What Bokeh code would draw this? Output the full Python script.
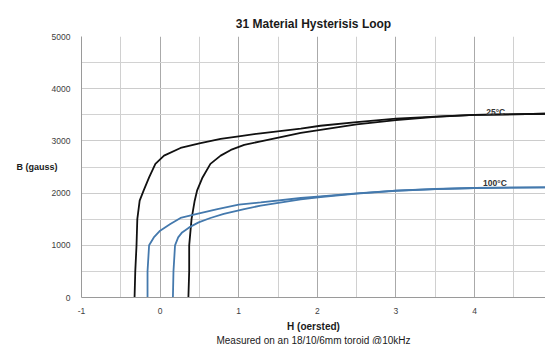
from bokeh.plotting import figure
from bokeh.models import Range1d, FixedTicker, Label, Title
from bokeh.embed import file_html
from bokeh.resources import INLINE

# 25 C loop: descending (upper) branch and ascending (lower) branch
h25_down = [4.9, 4.0, 3.5, 3.0, 2.5, 2.04, 1.79, 1.28, 1.0, 0.77, 0.5, 0.26, 0.05, -0.06, -0.14, -0.21, -0.26, -0.29, -0.30, -0.316, -0.325]
b25_down = [3520, 3498, 3466, 3425, 3360, 3290, 3235, 3146, 3088, 3038, 2954, 2865, 2718, 2560, 2300, 2046, 1855, 1500, 1000, 500, 0]
h25_up = [0.36, 0.37, 0.37, 0.40, 0.44, 0.47, 0.54, 0.64, 0.77, 0.90, 1.07, 1.28, 1.79, 2.04, 2.5, 3.0, 3.5, 4.0, 4.9]
b25_up = [0, 500, 1000, 1500, 1855, 2046, 2300, 2560, 2718, 2827, 2923, 2992, 3153, 3210, 3315, 3400, 3462, 3498, 3520]

# 100 C loop
h100_down = [4.9, 4.0, 3.5, 3.0, 2.5, 2.04, 1.79, 1.28, 1.0, 0.73, 0.47, 0.26, 0.13, 0.0, -0.08, -0.14, -0.16, -0.16]
b100_down = [2110, 2098, 2079, 2047, 1995, 1937, 1906, 1822, 1778, 1695, 1600, 1523, 1408, 1280, 1151, 1000, 500, 0]
h100_up = [0.163, 0.17, 0.19, 0.23, 0.28, 0.37, 0.49, 0.64, 0.81, 1.07, 1.28, 1.79, 2.04, 2.5, 3.0, 3.5, 4.0, 4.9]
b100_up = [0, 500, 1000, 1151, 1247, 1343, 1439, 1523, 1600, 1695, 1759, 1880, 1925, 1990, 2045, 2078, 2098, 2110]

x_ticks = [-1, 0, 1, 2, 3, 4, 5]
x_minor = [-0.5, 0.5, 1.5, 2.5, 3.5, 4.5]
y_ticks = [0, 1000, 2000, 3000, 4000, 5000]
y_minor = [500, 1500, 2500, 3500, 4500]

title_text = "31 Material Hysterisis Loop"
x_title = "H (oersted)"
y_title = "B (gauss)"
subtitle = "Measured on an 18/10/6mm toroid @10kHz"
curve_labels = ["25\u00b0C", "100\u00b0C"]
curve_label_x = [4.27, 4.26]
curve_label_y = [3545, 2185]

FONT = "Liberation Sans"

p = figure(width=545, height=344, output_backend="svg", toolbar_location=None,
           x_range=Range1d(-1, 4.903), y_range=Range1d(0, 5000),
           min_border_left=81, min_border_right=0, min_border_top=36, min_border_bottom=47)
p.outline_line_color = None
p.background_fill_color = "white"
p.border_fill_color = "white"

p.title.text = title_text
p.title.align = "center"
p.title.text_font = FONT
p.title.text_font_size = "12px"
p.title.text_font_style = "bold"
p.title.text_color = "#1a1a1a"
p.title.offset = 0
p.title.standoff = 11

p.xaxis.ticker = FixedTicker(ticks=x_ticks, minor_ticks=x_minor)
p.yaxis.ticker = FixedTicker(ticks=y_ticks, minor_ticks=y_minor)
p.xaxis.major_label_overrides = {-1: "-1"}
for ax in (p.xaxis, p.yaxis):
    ax.major_tick_line_color = None
    ax.minor_tick_line_color = None
    ax.axis_line_color = "#9a9a9a"
    ax.major_label_text_font = FONT
    ax.major_label_text_font_size = "8.5px"
    ax.major_label_text_color = "#404040"
    ax.axis_label_text_font = FONT
    ax.axis_label_text_font_style = "bold"
    ax.axis_label_text_color = "#1a1a1a"
p.xaxis.major_label_standoff = 4
p.yaxis.major_label_standoff = 5

p.xaxis.axis_label = x_title
p.xaxis.axis_label_text_font_size = "10px"
p.xaxis.axis_label_standoff = 4

p.yaxis.axis_label = y_title
p.yaxis.axis_label_text_font_size = "9px"
try:
    p.yaxis.axis_label_standoff = -9
except Exception:
    p.yaxis.axis_label_standoff = 0
try:
    p.yaxis.axis_label_orientation = "horizontal"
except Exception:
    pass

sub = Title(text=subtitle, align="center", text_font=FONT, text_font_size="10px",
            text_font_style="normal", text_color="#1a1a1a")
try:
    sub.standoff = -4
except Exception:
    sub.standoff = 0
p.add_layout(sub, "below")

p.xgrid.grid_line_color = "#aaaaaa"
p.xgrid.minor_grid_line_color = "#d0d0d0"
p.ygrid.grid_line_color = "#cccccc"
p.ygrid.minor_grid_line_color = "#d2d2d2"

black = "#111111"
blue = "#4479ad"
p.line(h25_down, b25_down, line_color=black, line_width=1.8)
p.line(h25_up, b25_up, line_color=black, line_width=1.8)
p.line(h100_down, b100_down, line_color=blue, line_width=1.8)
p.line(h100_up, b100_up, line_color=blue, line_width=1.8)

for t, xx, yy in zip(curve_labels, curve_label_x, curve_label_y):
    p.add_layout(Label(x=xx, y=yy, text=t, text_align="center", text_baseline="alphabetic",
                       text_font=FONT, text_font_size="8.5px", text_font_style="bold",
                       text_color="#333333"))

open("out.html", "w").write(file_html(p, INLINE))
